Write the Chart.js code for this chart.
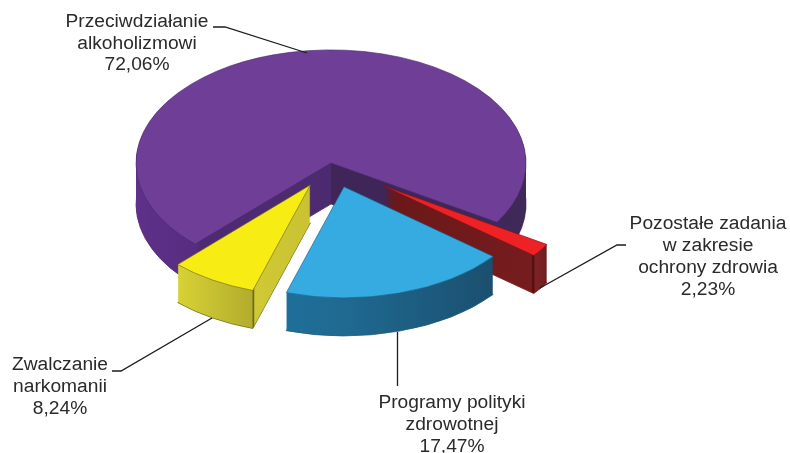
<!DOCTYPE html>
<html>
<head>
    <meta http-equiv="Content-Type" content="text/html; charset=utf-8"/>
    <title>Wydatki</title>
    <style>
        body { margin: 0; background: #fff; }
        canvas { display: block; }
    </style>
</head>
<body>
    <canvas id="myChart" width="790" height="453"></canvas>
    <script src="https://cdn.jsdelivr.net/npm/chart.js"></script>
    <script>
        const categories = [
            ['Przeciwdziałanie', 'alkoholizmowi'],
            ['Pozostałe zadania', 'w zakresie', 'ochrony zdrowia'],
            ['Programy polityki', 'zdrowotnej'],
            ['Zwalczanie', 'narkomanii']
        ];
        const values = [72.06, 2.23, 17.47, 8.24];

        const topColors = ['#6f3f98', '#ee2124', '#35abe2', '#f7ec13'];
        const edgeColors = ['#4d2a70', '#7a1416', '#1d5c80', '#6f6a1c'];

        // side wall colours, position is fraction across the slice's full circle
        const sideStops = [
            [[0, '#5f3189'], [0.156, '#562c80'], [0.165, '#4e2a72'], [0.499, '#4c2a70'], [0.501, '#3f2558'], [1, '#3e2958']],
            [[0.5, '#6b1718'], [0.885, '#751c1e'], [0.886, '#540f11'], [0.892, '#540f11'], [0.893, '#7f2325'], [0.927, '#6e1c1e']],
            [[0.349, '#1d6f99'], [0.49, '#206a91'], [0.7, '#1c5c80'], [0.887, '#1b4f6e']],
            [[0.152, '#d8d236'], [0.348, '#b3ac2d'], [0.349, '#6f6a1c'], [0.353, '#6f6a1c'], [0.354, '#cfc935'], [0.5, '#c9c333']]
        ];

        const squash = 0.58;
        const explode = [0, 66, 43, 43];
        const radii = [195, 192, 191.5, 191];
        const depths = [41, 38, 38, 38];
        // the original's projection skews slice edges a little, degrees [start, end]
        const edgeSkew = [[0.7, -1.3], [-1.2, -2.3], [-2.1, 3.7], [3.7, 0.5]];

        const labelBoxes = [
            { x: 137, y: 22, gap: 21.5 },
            { x: 708, y: 224, gap: 22 },
            { x: 452, y: 403, gap: 22 },
            { x: 60, y: 365, gap: 22 }
        ];
        const leaders = [
            [[213, 27], [225, 27], [307, 53]],
            [[626, 245], [617, 245], [540, 288]],
            [[397.5, 332], [397.5, 386]],
            [[112, 371], [121, 371], [212, 318]]
        ];

        function drawArcAt(ctx, arc, i, mid, dy, fill, borderWidth) {
            const base = arc.options;
            ctx.save();
            ctx.translate(arc.x + Math.cos(mid) * explode[i], arc.y + Math.sin(mid) * explode[i] * squash + dy);
            ctx.scale(1, squash);
            ctx.translate(-arc.x, -arc.y);
            arc.options = Object.assign({}, base, { backgroundColor: fill, borderWidth: borderWidth, borderColor: edgeColors[i] });
            arc.draw(ctx);
            arc.options = base;
            ctx.restore();
        }

        const pie3d = {
            id: 'pie3d',
            beforeDatasetDraw(chart, args) {
                const ctx = chart.ctx;
                args.meta.data.forEach((arc, i) => {
                    const start = arc.startAngle;
                    const end = arc.endAngle;
                    const mid = (start + end) / 2;
                    arc.startAngle = start + edgeSkew[i][0] * Math.PI / 180;
                    arc.endAngle = end + edgeSkew[i][1] * Math.PI / 180;
                    arc.outerRadius = radii[i];
                    const r = radii[i];
                    const grad = ctx.createLinearGradient(arc.x - r, 0, arc.x + r, 0);
                    sideStops[i].forEach((s) => grad.addColorStop(s[0], s[1]));
                    for (let dy = depths[i]; dy >= 1; dy--) {
                        drawArcAt(ctx, arc, i, mid, dy, grad, dy === depths[i] ? 1 : 0);
                    }
                    drawArcAt(ctx, arc, i, mid, 0, topColors[i], 0.8);
                    arc.startAngle = start;
                    arc.endAngle = end;
                });
                return false;
            },
            afterDraw(chart) {
                const ctx = chart.ctx;
                ctx.save();
                ctx.strokeStyle = '#1c1c1c';
                ctx.lineWidth = 1.3;
                leaders.forEach((pts) => {
                    ctx.beginPath();
                    pts.forEach((p, j) => (j ? ctx.lineTo(p[0], p[1]) : ctx.moveTo(p[0], p[1])));
                    ctx.stroke();
                });
                ctx.fillStyle = '#2b2a2b';
                ctx.font = '19.2px "Liberation Sans"';
                ctx.textAlign = 'center';
                ctx.textBaseline = 'middle';
                categories.forEach((lines, i) => {
                    const pct = values[i].toFixed(2).replace('.', ',') + '%';
                    lines.concat(pct).forEach((line, j) => {
                        ctx.fillText(line, labelBoxes[i].x, labelBoxes[i].y + j * labelBoxes[i].gap);
                    });
                });
                ctx.restore();
            }
        };

        const myChart = new Chart(document.getElementById('myChart'), {
            type: 'pie',
            data: {
                labels: categories.map((c) => c.join(' ')),
                datasets: [{ data: values, backgroundColor: topColors, borderWidth: 0 }]
            },
            options: {
                responsive: false,
                animation: false,
                radius: 195,
                rotation: 223.5,
                layout: { padding: { right: 128, bottom: 127 } },
                plugins: { legend: { display: false }, tooltip: { enabled: false } },
                events: []
            },
            plugins: [pie3d]
        });
    </script>
</body>
</html>
